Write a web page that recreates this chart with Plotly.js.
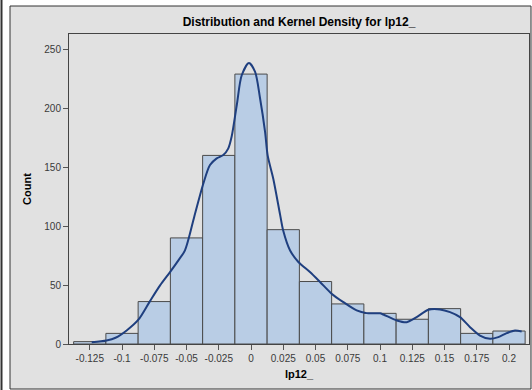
<!DOCTYPE html>
<html>
<head>
<meta charset="utf-8">
<script src="https://cdn.plot.ly/plotly-3.0.1.min.js"></script>
<style>html,body{margin:0;padding:0;background:#fff;}#chart{width:532px;height:390px;}</style>
</head>
<body>
<div id="chart"></div>
<script>
// Histogram bins (centers) and counts
var binCenters = [-0.125, -0.1, -0.075, -0.05, -0.025, 0, 0.025, 0.05, 0.075, 0.1, 0.125, 0.15, 0.175, 0.2];
var binCounts  = [2, 9, 36, 90, 160, 229, 97, 53, 34, 26, 21, 30, 9, 11];
var binWidth = 0.025;

// Kernel density curve (scaled to counts)
var densityX = [-0.1235, -0.112, -0.105, -0.0964, -0.0873, -0.0783, -0.0705, -0.0628, -0.0563, -0.0512, -0.044, -0.037, -0.0318, -0.0266, -0.0215, -0.0176, -0.015, -0.011, -0.0072, -0.0016, 0.0031, 0.007, 0.0109, 0.0129, 0.0173, 0.0225, 0.025, 0.0302, 0.0367, 0.0457, 0.0535, 0.0625, 0.0716, 0.0819, 0.0897, 0.1, 0.1026, 0.113, 0.1207, 0.1284, 0.1375, 0.1465, 0.1543, 0.162, 0.1698, 0.1775, 0.1853, 0.1917, 0.1982, 0.2047, 0.2098];
var densityY = [1.5, 3, 5.3, 11.5, 20.6, 36.4, 49.7, 61, 71, 79.5, 108, 136, 151.8, 157.5, 160.3, 166, 176, 203, 228, 238.3, 231, 208.5, 180, 160, 140, 110, 96, 79.5, 69.6, 61, 52.6, 42.7, 35.5, 28.5, 26.2, 26, 25, 20, 18.5, 22.8, 29, 29.3, 27, 22.8, 14.3, 7.2, 4.4, 5.8, 9.2, 11.5, 10.6];

var xTickVals = [-0.125, -0.1, -0.075, -0.05, -0.025, 0, 0.025, 0.05, 0.075, 0.1, 0.125, 0.15, 0.175, 0.2];
var xTickText = ["-0.125", "-0.1", "-0.075", "-0.05", "-0.025", "0", "0.025", "0.05", "0.075", "0.1", "0.125", "0.15", "0.175", "0.2"];
var yTickVals = [0, 50, 100, 150, 200, 250];

var FONT = 'Arial, "Liberation Sans", sans-serif';

var traces = [
  {
    type: 'bar',
    x: binCenters,
    y: binCounts,
    width: binCenters.map(function(){ return binWidth; }),
    marker: {color: '#b9cde5', line: {color: '#4a4a4a', width: 1}},
    hoverinfo: 'x+y',
    showlegend: false
  },
  {
    type: 'scatter',
    mode: 'lines',
    x: densityX,
    y: densityY,
    line: {color: '#1f3f7f', width: 2, shape: 'spline', smoothing: 0.8},
    showlegend: false
  }
];

var layout = {
  width: 532,
  height: 390,
  margin: {l: 69, r: 3, t: 34, b: 46},
  paper_bgcolor: '#ffffff',
  plot_bgcolor: '#ffffff',
  font: {family: FONT, size: 10, color: '#3a3a3a'},
  bargap: 0,
  title: {
    text: '<b>Distribution and Kernel Density for lp12_</b>',
    font: {family: FONT, size: 12, color: '#000'},
    x: 0.5, xref: 'paper', xanchor: 'center',
    y: 1 - 22/390, yref: 'container', yanchor: 'middle'
  },
  xaxis: {
    range: [-0.1411, 0.2155],
    tickvals: xTickVals,
    ticktext: xTickText,
    ticks: 'outside', ticklen: 5, tickcolor: '#555',
    showline: true, linecolor: '#444', linewidth: 1, mirror: true,
    showgrid: false, zeroline: false,
    tickfont: {family: FONT, size: 10, color: '#3a3a3a'},
    title: {text: '<b>lp12_</b>', font: {family: FONT, size: 11, color: '#000'}, standoff: 7}
  },
  yaxis: {
    range: [0, 263],
    tickvals: yTickVals,
    ticks: 'outside', ticklen: 5, tickcolor: '#555',
    showline: true, linecolor: '#444', linewidth: 1, mirror: true,
    showgrid: false, zeroline: false,
    tickfont: {family: FONT, size: 10, color: '#3a3a3a'},
    title: {text: '<b>Count</b>', font: {family: FONT, size: 11, color: '#000'}, standoff: 10}
  },
  shapes: [
    {type: 'rect', xref: 'paper', yref: 'paper', layer: 'below',
     x0: (10-69)/460, x1: (531-69)/460, y0: (344-389)/310, y1: (344-6)/310,
     fillcolor: '#e1e1e1', line: {color: '#333', width: 1}},
    {type: 'line', xref: 'paper', yref: 'paper', layer: 'below',
     x0: (1.5-69)/460, x1: (1.5-69)/460, y0: (344-390)/310, y1: (344-0)/310,
     line: {color: '#333', width: 2}}
  ]
};

Plotly.newPlot('chart', traces, layout, {displayModeBar: false, staticPlot: true});
</script>
</body>
</html>
